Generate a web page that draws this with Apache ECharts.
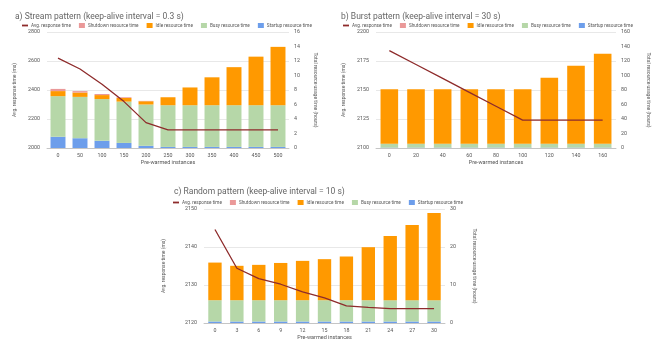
<!DOCTYPE html>
<html lang="en">
<head>
  <meta charset="UTF-8">
  <title>Pre-warmed instances</title>
  <script src="https://cdn.jsdelivr.net/npm/echarts@6/dist/echarts.min.js"></script>
</head>
<body style="margin:0;background:#fff">
  <div id="container" style="width:655px;height:343px;"></div>
  <script>
    // a) stream pattern
    var catsA = ['0', '50', '100', '150', '200', '250', '300', '350', '400', '450', '500'];
    var respA = [2620, 2545, 2440, 2320, 2175, 2125, 2125, 2125, 2125, 2125, 2125];
    var startupA = [1.55, 1.35, 1.0, 0.7, 0.3, 0.15, 0.15, 0.15, 0.15, 0.15, 0.15];
    var busyA = [5.6, 5.7, 5.75, 5.7, 5.7, 5.75, 5.75, 5.75, 5.75, 5.75, 5.75];
    var idleA = [0.7, 0.6, 0.55, 0.5, 0.45, 1.1, 2.45, 3.85, 5.25, 6.7, 8.05];
    var shutA = [0.3, 0.2, 0.15, 0.1, 0.05, 0, 0, 0, 0, 0, 0];

    // b) burst pattern
    var catsB = ['0', '20', '40', '60', '80', '100', '120', '140', '160'];
    var respB = [2184, 2172, 2160, 2148, 2136, 2124, 2124, 2124, 2124];
    var startupB = [0.5, 0.5, 0.5, 0.5, 0.5, 0.5, 0.5, 0.5, 0.5];
    var busyB = [5.5, 5.5, 5.5, 5.5, 5.5, 5.5, 5.5, 5.5, 5.5];
    var idleB = [75, 75, 75, 75, 75, 75, 91, 107.5, 124];
    var shutB = [0, 0, 0, 0, 0, 0, 0, 0, 0];

    // c) random pattern
    var catsC = ['0', '3', '6', '9', '12', '15', '18', '21', '24', '27', '30'];
    var respC = [2144.6, 2134.4, 2131.7, 2130.2, 2128.2, 2126.6, 2124.5, 2124.1, 2123.8, 2123.8, 2123.8];
    var startupC = [0.4, 0.4, 0.4, 0.4, 0.4, 0.4, 0.4, 0.4, 0.4, 0.4, 0.4];
    var busyC = [5.6, 5.6, 5.6, 5.6, 5.6, 5.6, 5.6, 5.6, 5.6, 5.6, 5.6];
    var idleC = [9.9, 9.05, 9.3, 9.8, 10.35, 10.8, 11.5, 13.95, 16.9, 19.8, 22.95];
    var shutC = [0, 0, 0, 0, 0, 0, 0, 0, 0, 0, 0];

    var names = ['Avg. response time', 'Shutdown resource time', 'Idle resource time', 'Busy resource time', 'Startup resource time'];
    var colors = { line: '#8e2b2b', shut: '#ea9999', idle: '#ff9900', busy: '#b6d7a8', startup: '#6d9eeb' };
    var txt = '#555';
    var font = 'Roboto, Arial, sans-serif';

    var myChart = echarts.init(document.getElementById('container'));

    function legendFor(left, top) {
      return {
        left: left, top: top, itemGap: 8, itemWidth: 6, itemHeight: 5,
        textStyle: { fontSize: 4.7, color: txt, fontFamily: font, padding: [0, 0, 0, -2] },
        data: [
          { name: names[0], icon: 'path://M0,0H10V3H0Z', itemStyle: { color: colors.line } },
          { name: names[1], icon: 'rect' },
          { name: names[2], icon: 'rect' },
          { name: names[3], icon: 'rect' },
          { name: names[4], icon: 'rect' }
        ]
      };
    }

    function xAx(grid, cats) {
      return {
        type: 'category', gridIndex: grid, data: cats,
        name: 'Pre-warmed instances', nameLocation: 'middle', nameGap: 12,
        nameTextStyle: { fontSize: 5.5, color: txt, fontFamily: font },
        axisTick: { show: false },
        axisLine: { lineStyle: { color: '#bbb', width: 0.8 } },
        axisLabel: { fontSize: 5.3, color: txt, fontFamily: font, margin: 5 }
      };
    }

    function leftAx(grid, min, max, interval, gap) {
      return {
        type: 'value', gridIndex: grid, min: min, max: max, interval: interval,
        name: 'Avg. response time (ms)', nameLocation: 'middle', nameGap: gap, nameRotate: 90,
        nameTextStyle: { fontSize: 5, color: txt, fontFamily: font },
        axisLabel: { fontSize: 5.3, color: txt, fontFamily: font, margin: 7, formatter: function (v) { return String(v); } },
        splitLine: { lineStyle: { color: '#e2e2e2', width: 0.8 } }
      };
    }

    function rightAx(grid, max, interval, gap) {
      return {
        type: 'value', gridIndex: grid, min: 0, max: max, interval: interval, position: 'right',
        name: 'Total resource usage time (hours)', nameLocation: 'middle', nameGap: gap, nameRotate: -90,
        nameTextStyle: { fontSize: 5, color: txt, fontFamily: font },
        axisLabel: { fontSize: 5.3, color: txt, fontFamily: font, margin: 5 },
        splitLine: { show: false }
      };
    }

    function seriesFor(idx, stack, resp, startup, busy, idle, shut, barW) {
      var bar = function (name, data, color) {
        return {
          type: 'bar', name: name, xAxisIndex: idx, yAxisIndex: idx * 2 + 1, stack: stack,
          data: data, barWidth: barW, itemStyle: { color: color }, z: 2
        };
      };
      return [
        bar(names[4], startup, colors.startup),
        bar(names[3], busy, colors.busy),
        bar(names[2], idle, colors.idle),
        bar(names[1], shut, colors.shut),
        {
          type: 'line', name: names[0], xAxisIndex: idx, yAxisIndex: idx * 2, data: resp,
          symbol: 'none', lineStyle: { color: colors.line, width: 1.3 }, itemStyle: { color: colors.line }, z: 5
        }
      ];
    }

    myChart.setOption({
      backgroundColor: '#fff',
      animation: false,
      title: [
        { text: 'a) Stream pattern (keep-alive interval = 0.3 s)', left: 10, top: 7, textStyle: { fontSize: 8.5, fontWeight: 'normal', color: '#666', fontFamily: font } },
        { text: 'b) Burst pattern (keep-alive interval = 30 s)', left: 336, top: 7, textStyle: { fontSize: 8.5, fontWeight: 'normal', color: '#666', fontFamily: font } },
        { text: 'c) Random pattern (keep-alive interval = 10 s)', left: 169, top: 182, textStyle: { fontSize: 8.5, fontWeight: 'normal', color: '#666', fontFamily: font } }
      ],
      legend: [legendFor(17, 18), legendFor(338, 18), legendFor(168, 195)],
      grid: [
        { left: 47, right: 366, top: 32, bottom: 195 },
        { left: 376, right: 39, top: 32, bottom: 195 },
        { left: 204, right: 210, top: 209, bottom: 20 }
      ],
      xAxis: [xAx(0, catsA), xAx(1, catsB), xAx(2, catsC)],
      yAxis: [
        leftAx(0, 2000, 2800, 200, 30), rightAx(0, 16, 2, 24),
        leftAx(1, 2100, 2200, 25, 30), rightAx(1, 160, 20, 30),
        leftAx(2, 2120, 2150, 10, 38), rightAx(2, 30, 10, 27)
      ],
      series: [].concat(
        seriesFor(0, 'a', respA, startupA, busyA, idleA, shutA, '68%'),
        seriesFor(1, 'b', respB, startupB, busyB, idleB, shutB, '66%'),
        seriesFor(2, 'c', respC, startupC, busyC, idleC, shutC, '61%')
      )
    });
  </script>
</body>
</html>
